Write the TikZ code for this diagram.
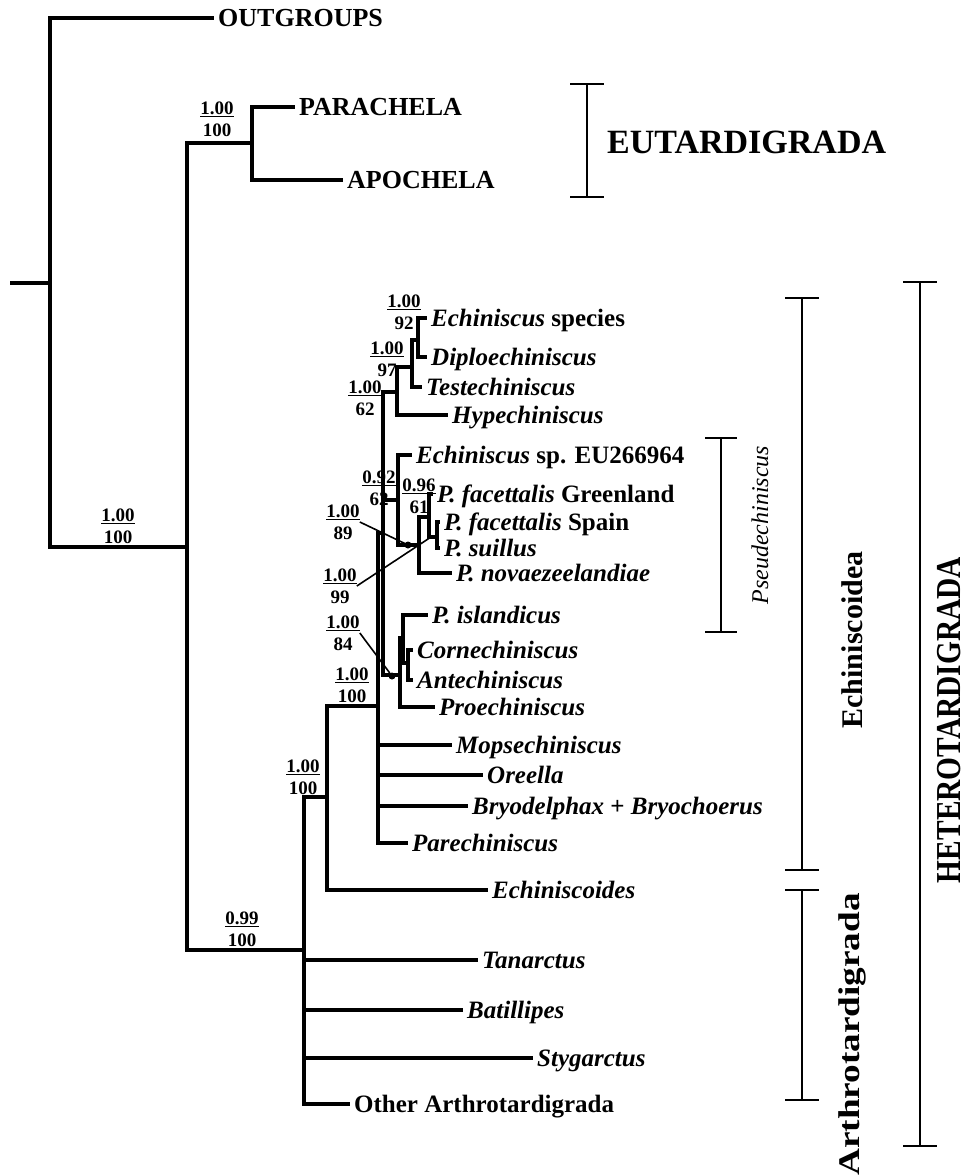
\documentclass[tikz,border=0pt]{standalone}
\usepackage{fontspec}
\setmainfont{Liberation Serif}
\usepackage{tikz}

\begin{document}
\begin{tikzpicture}[x=1pt,y=-1pt,
br/.style={line width=3.5pt},
brk/.style={line width=2.8pt},
ptr/.style={line width=1.6pt},
leaf/.style={anchor=west,inner xsep=4pt,inner ysep=0pt,text height=16.5pt,text depth=0pt,font=\fontsize{25}{30}\selectfont\bfseries},
supp/.style={align=center,inner sep=0pt,font=\fontsize{19}{22}\selectfont\bfseries},
dot/.style={circle,fill,inner sep=0pt,minimum size=7pt},
grp/.style={rotate=90,inner sep=0pt,font=\fontsize{30}{36}\selectfont\bfseries}]
\useasboundingbox (0,0) rectangle (970,1176);
% leaves
\node[leaf,font=\fontsize{26}{30}\selectfont\bfseries] (out) at (214,18) {OUTGROUPS};
\node[leaf,font=\fontsize{26}{30}\selectfont\bfseries] (para) at (295,107) {PARACHELA};
\node[leaf,font=\fontsize{26}{30}\selectfont\bfseries] (apo) at (343,180) {APOCHELA};
\node[leaf] (echsp) at (427,318) {\textit{Echiniscus} species};
\node[leaf] (dip) at (427,357) {\textit{Diploechiniscus}};
\node[leaf] (tes) at (422,387) {\textit{Testechiniscus}};
\node[leaf] (hyp) at (448,415) {\textit{Hypechiniscus}};
\node[leaf] (eu) at (412,455) {\textit{Echiniscus} sp. EU266964};
\node[leaf] (gre) at (433,494) {\textit{P. facettalis} Greenland};
\node[leaf] (spa) at (440,522) {\textit{P. facettalis} Spain};
\node[leaf] (sui) at (440,548) {\textit{P. suillus}};
\node[leaf] (nov) at (452,573) {\textit{P. novaezeelandiae}};
\node[leaf] (isl) at (428,615) {\textit{P. islandicus}};
\node[leaf] (cor) at (413,650) {\textit{Cornechiniscus}};
\node[leaf] (ant) at (413,680) {\textit{Antechiniscus}};
\node[leaf] (pro) at (435,707) {\textit{Proechiniscus}};
\node[leaf] (mop) at (452,745) {\textit{Mopsechiniscus}};
\node[leaf] (ore) at (483,775) {\textit{Oreella}};
\node[leaf] (bry) at (468,806) {\textit{Bryodelphax} + \textit{Bryochoerus}};
\node[leaf] (par) at (408,843) {\textit{Parechiniscus}};
\node[leaf] (eco) at (488,890) {\textit{Echiniscoides}};
\node[leaf] (tan) at (478,960) {\textit{Tanarctus}};
\node[leaf] (bat) at (463,1010) {\textit{Batillipes}};
\node[leaf] (sty) at (533,1058) {\textit{Stygarctus}};
\node[leaf] (oth) at (350,1104) {Other Arthrotardigrada};
% inner nodes
\coordinate (stub) at (10,283);
\coordinate (root) at (50,283);
\coordinate (tard) at (187,547);
\coordinate (eut) at (252,143);
\coordinate (het) at (304,950);
\coordinate (ech) at (327,797);
\coordinate (ecd) at (378,706);
\coordinate (n3) at (383,533);
\coordinate (cA) at (397,392);
\coordinate (cA2) at (412,367);
\coordinate (cA3) at (418,340);
\coordinate (cP) at (398,500);
\coordinate (cP2) at (419,545);
\coordinate (cP3) at (429,517);
\coordinate (cP4) at (437,537);
\coordinate (cC) at (400,675);
\coordinate (cC2) at (403,638);
\coordinate (cC3) at (408,663);
\coordinate (p99) at (431,537);
% branches
\draw[br] (stub) -- (root);
\draw[br] (root) |- (out.west) (root) |- (tard);
\draw[br] (tard) |- (eut) (tard) |- (het);
\draw[br] (eut) |- (para.west) (eut) |- (apo.west);
\draw[br] (het) |- (ech) (het) |- (tan.west) (het) |- (bat.west) (het) |- (sty.west) (het) |- (oth.west);
\draw[br] (ech) |- (ecd) (ech) |- (eco.west);
\draw[br] (ecd) |- (n3) (ecd) |- (mop.west) (ecd) |- (ore.west) (ecd) |- (bry.west) (ecd) |- (par.west);
\draw[br] (n3) |- (cA) (n3) |- (cP) (n3) |- (cC);
\draw[br] (cA) |- (cA2) (cA) |- (hyp.west);
\draw[br] (cA2) |- (cA3) (cA2) |- (tes.west);
\draw[br] (cA3) |- (echsp.west) (cA3) |- (dip.west);
\draw[br] (cP) |- (eu.west) (cP) |- (cP2);
\draw[br] (cP2) |- (cP3) (cP2) |- (nov.west);
\draw[br] (cP3) |- (gre.west) (cP3) |- (cP4);
\draw[br] (cP4) |- (spa.west) (cP4) |- (sui.west);
\draw[br] (cC) |- (cC2) (cC) |- (pro.west);
\draw[br] (cC2) |- (isl.west) (cC2) |- (cC3);
\draw[br] (cC3) |- (cor.west) (cC3) |- (ant.west);
% support values
\node[supp] (s1) at (118,526) {\underline{1.00}\\100};
\node[supp] (s2) at (217,119) {\underline{1.00}\\100};
\node[supp] (s3) at (242,929) {\underline{0.99}\\100};
\node[supp] (s4) at (303,777) {\underline{1.00}\\100};
\node[supp] (s5) at (352,685) {\underline{1.00}\\100};
\node[supp] (s6) at (404,312) {\underline{1.00}\\92};
\node[supp] (s7) at (387,359) {\underline{1.00}\\97};
\node[supp] (s8) at (365,398) {\underline{1.00}\\62};
\node[supp] (s9) at (379,488) {\underline{0.92}\\62};
\node[supp] (s10) at (419,496) {\underline{0.96}\\61};
\node[supp] (s11) at (343,522) {\underline{1.00}\\89};
\node[supp] (s12) at (340,586) {\underline{1.00}\\99};
\node[supp] (s13) at (343,633) {\underline{1.00}\\84};
\node[dot] (d89) at (408,545) {};
\node[dot] (d84) at (392,676) {};
\draw[ptr] (s11.east) -- (d89);
\draw[ptr] (s12.east) -- (p99);
\draw[ptr] (s13.east) -- (d84);
% clade bars
\draw[brk] (587,84) -- (587,197) (570,84) -- (604,84) (570,197) -- (604,197);
\node[anchor=west,inner sep=0pt,font=\fontsize{34}{40}\selectfont\bfseries] (eutl) at (607,142) {EUTARDIGRADA};
\draw[brk] (721,438) -- (721,632) (705,438) -- (737,438) (705,632) -- (737,632);
\node[rotate=90,inner sep=0pt,font=\fontsize{24}{28}\selectfont\itshape] (psel) at (760,525) {Pseudechiniscus};
\draw[brk] (802,298) -- (802,870) (785,298) -- (819,298) (785,870) -- (819,870);
\node[grp] (echl) at (852,640) {Echiniscoidea};
\draw[brk] (802,890) -- (802,1100) (785,890) -- (819,890) (785,1100) -- (819,1100);
\node[grp,anchor=east] (arl) at (852,893) {\scalebox{1.24}[1]{Arthrotardigrada}};
\draw[brk] (920,282) -- (920,1146) (903,282) -- (937,282) (903,1146) -- (937,1146);
\node[grp,font=\fontsize{35}{40}\selectfont\bfseries] (hetl) at (949,720) {\scalebox{0.84}[1]{HETEROTARDIGRADA}};
\end{tikzpicture}
\end{document}
